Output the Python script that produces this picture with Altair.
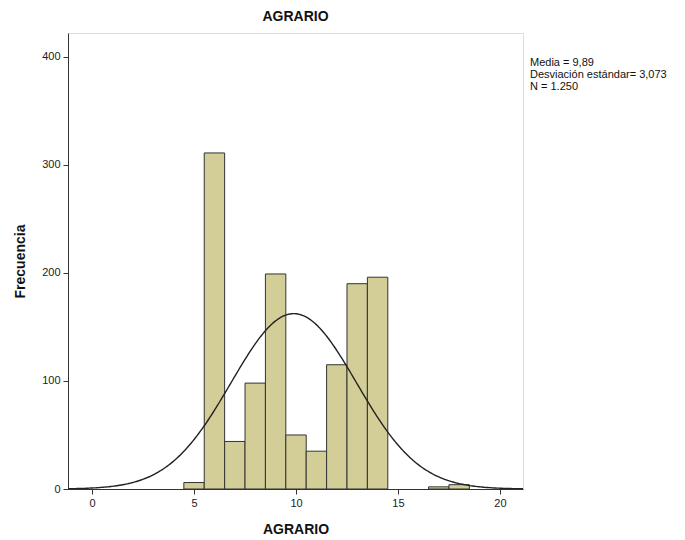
import altair as alt
import pandas as pd
import numpy as np

# Histogram bins (centered on integers, width 1)
bin_centers = [5, 6, 7, 8, 9, 10, 11, 12, 13, 14, 17, 18]
frequencies = [6, 311, 44, 98, 199, 50, 35, 115, 190, 196, 2, 4]

mean_val = 9.89
sd_val = 3.073
n_val = 1250

stats_lines = ["Media = 9,89", "Desviación estándar= 3,073", "N = 1.250"]

x_ticks = [0, 5, 10, 15, 20]
y_ticks = [0, 100, 200, 300, 400]

bars_df = pd.DataFrame({
    "x0": [c - 0.5 for c in bin_centers],
    "x1": [c + 0.5 for c in bin_centers],
    "freq": frequencies,
})

xs = np.linspace(-1.18, 21.13, 300)
curve_df = pd.DataFrame({
    "x": xs,
    "y": n_val * 1.0 / (sd_val * np.sqrt(2 * np.pi)) * np.exp(-0.5 * ((xs - mean_val) / sd_val) ** 2),
})

xscale = alt.Scale(domain=[-1.18, 21.13], nice=False, zero=False)
yscale = alt.Scale(domain=[0, 422], nice=False)

FONT = "Liberation Sans"

bars = alt.Chart(bars_df).mark_rect(
    fill="#d3ce97", stroke="#333333", strokeWidth=1
).encode(
    x=alt.X("x0:Q", scale=xscale, axis=alt.Axis(
        values=x_ticks, title="AGRARIO", grid=False, tickSize=5,
        labelFontSize=11, titleFontSize=14, titleFontWeight="bold",
        titlePadding=14, labelPadding=3, domainColor="#333333", tickColor="#333333",
        labelColor="#222222", titleColor="#111111", labelFont=FONT, titleFont=FONT)),
    x2="x1:Q",
    y=alt.Y("freq:Q", scale=yscale, axis=alt.Axis(
        values=y_ticks, title="Frecuencia", grid=False, tickSize=5,
        labelFontSize=11, titleFontSize=14, titleFontWeight="bold",
        titlePadding=14, labelPadding=3, domainColor="#333333", tickColor="#333333",
        labelColor="#222222", titleColor="#111111", labelFont=FONT, titleFont=FONT)),
    y2=alt.datum(0),
)

curve = alt.Chart(curve_df).mark_line(color="#222222", strokeWidth=1.4, clip=True).encode(
    x=alt.X("x:Q", scale=xscale),
    y=alt.Y("y:Q", scale=yscale),
)

text_layers = []
for i, line in enumerate(stats_lines):
    text_layers.append(
        alt.Chart(pd.DataFrame({"t": [line]})).mark_text(
            align="left", baseline="middle", fontSize=11, font=FONT, color="#111111"
        ).encode(x=alt.value(462), y=alt.value(30 + 12 * i), text="t:N")
    )

chart = alt.layer(bars, curve, *text_layers).properties(
    width=455,
    height=456,
    title=alt.TitleParams("AGRARIO", fontSize=14, fontWeight="bold", font=FONT,
                          anchor="middle", offset=9, color="#111111"),
    autosize=alt.AutoSizeParams(type="none"),
    padding={"left": 60, "top": 25, "right": 150, "bottom": 60},
).configure_view(
    fill="#f0f0f0", stroke="#444444", strokeWidth=1.2
).configure(background="white")

chart.save("out.html", embed_options={"renderer": "svg", "actions": False})
